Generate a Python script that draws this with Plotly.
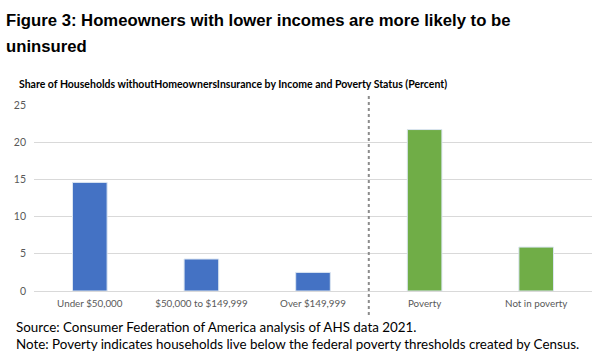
import plotly.graph_objects as go

categories = ["Under $50,000", "$50,000 to $149,999", "Over $149,999", "Poverty", "Not in poverty"]
values = [14.6, 4.3, 2.5, 21.7, 5.9]
colors = ["#4472C4", "#4472C4", "#4472C4", "#70AD47", "#70AD47"]
y_ticks = [0, 5, 10, 15, 20, 25]

W, H = 592, 357
L, R, T, B = 34, 0, 105, 66
pw = W - L - R
ph = H - T - B

def px(x):
    return (x - L) / pw

def py(y):
    return (H - B - y) / ph

fig = go.Figure()
fig.add_trace(go.Bar(
    x=categories, y=values,
    marker=dict(color=colors, line=dict(color="#dbe5f1", width=1)),
    width=0.31,
    hoverinfo="x+y",
))

fig.add_shape(type="line", xref="x", yref="paper", x0=2.5, x1=2.5,
              y0=py(315), y1=py(95),
              line=dict(color="#8c8c8c", width=2, dash="dot"))

font_body = "Lato, 'Open Sans', sans-serif"
annotations = [
    dict(text="<b>Figure 3: Homeowners with lower incomes are more likely to be</b>",
         x=px(4), y=py(9), font=dict(family="Liberation Sans, Arial", size=16.7, color="#000")),
    dict(text="<b>uninsured</b>",
         x=px(4), y=py(35), font=dict(family="Liberation Sans, Arial", size=16.7, color="#000")),
    dict(text="<b>Share of Households withoutHomeownersInsurance by Income and Poverty Status (Percent)</b>",
         x=px(17), y=py(76), font=dict(family=font_body, size=10.5, color="#000")),
    dict(text="Source: Consumer Federation of America analysis of AHS data 2021.",
         x=px(14), y=py(317), font=dict(family=font_body, size=13.4, color="#000")),
    dict(text="Note: Poverty indicates households live below the federal poverty thresholds created by Census.",
         x=px(14), y=py(334), font=dict(family=font_body, size=13.4, color="#000")),
]
for a in annotations:
    a.update(xref="paper", yref="paper", xanchor="left", yanchor="top", showarrow=False)

fig.update_layout(
    width=W, height=H,
    margin=dict(l=L, r=R, t=T, b=B),
    paper_bgcolor="white", plot_bgcolor="white",
    showlegend=False,
    annotations=annotations,
    xaxis=dict(showline=False, ticks="", tickfont=dict(family=font_body, size=9.8, color="#595959"),
               showgrid=False, range=[-0.5, 4.5], ticklabelstandoff=5),
    yaxis=dict(range=[0, 25], tickvals=y_ticks, showgrid=True, gridcolor="#d9d9d9", gridwidth=1,
               zeroline=True, zerolinecolor="#d9d9d9", zerolinewidth=1,
               tickfont=dict(family=font_body, size=10.5, color="#595959"), ticks="", showline=False,
               ticklabelstandoff=7),
)

fig.write_html("out.html", config={"displayModeBar": False},
               post_script="document.body.style.margin='0';document.body.style.overflow='hidden';")
